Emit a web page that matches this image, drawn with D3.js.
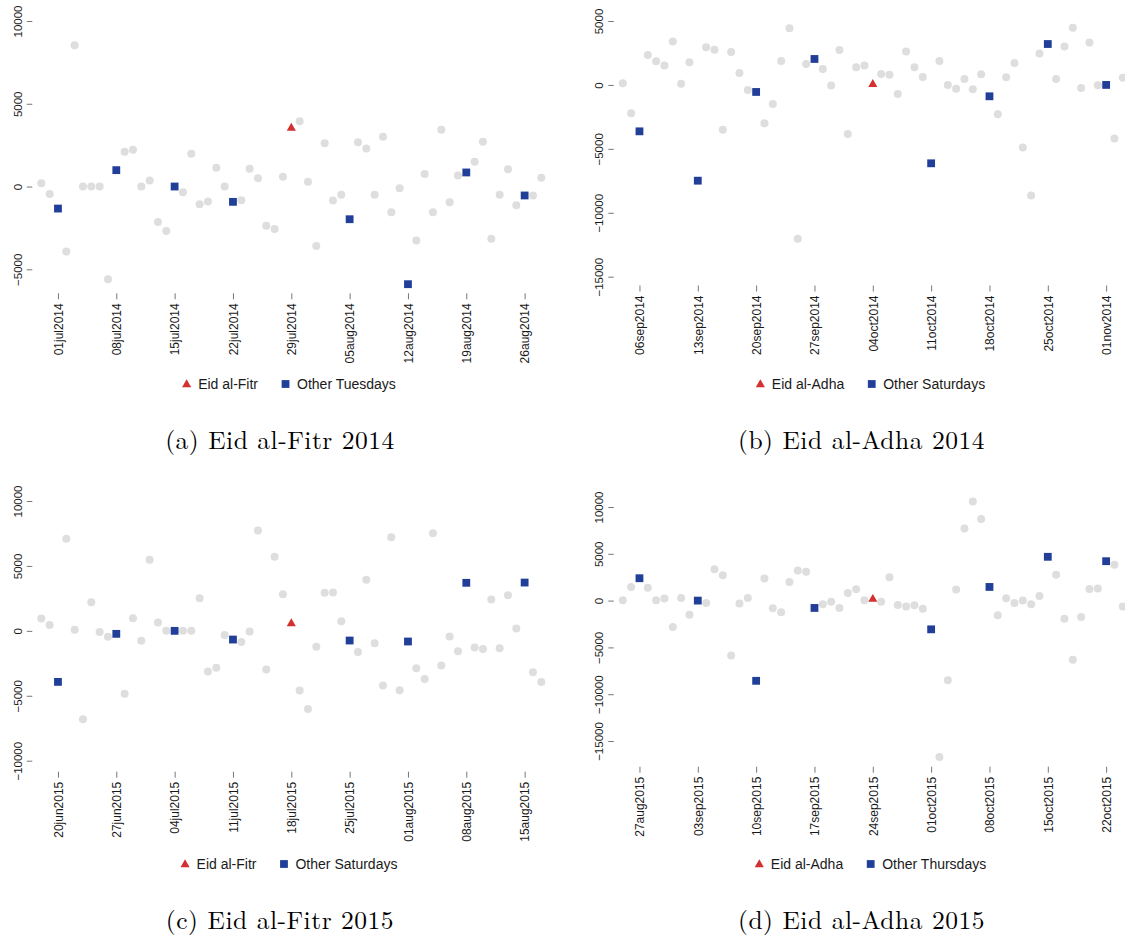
<!DOCTYPE html>
<html>
<head>
<meta charset="utf-8">
<script src="https://cdn.jsdelivr.net/npm/d3@7"></script>
<style>
  html, body { margin: 0; padding: 0; background: #fff; }
  svg { display: block; }
</style>
</head>
<body>
<script>
// Daily deviations around each Eid (61 days: 30 days before and after the holiday)
const startDates = ["2014-06-29", "2014-09-04", "2015-06-18", "2015-08-25"];

const eidFitr2014 = [
  200, -450, -1330, -3930, 8530, 0, 0, 0, -5600, 990,
  2100, 2220, 0, 360, -2150, -2680, 0, -340, 1980, -1065,
  -900, 1130, 0, -925, -830, 1070, 505, -2375, -2560, 585,
  3530, 3950, 285, -3585, 2620, -845, -500, -1975, 2680, 2300,
  -500, 3000, -1550, -100, -5900, -3265, 750, -1550, 3430, -945,
  665, 850, 1495, 2700, -3160, -500, 1050, -1125, -540, -540,
  525
];
const eidAdha2014 = [
  130, -2220, -3630, 2350, 1850, 1510, 3390, 100, 1770, -7490,
  2940, 2760, -3500, 2580, 940, -390, -550, -3000, -1490, 1880,
  4430, -12030, 1640, 2030, 1250, -50, 2740, -3830, 1380, 1510,
  50, 860, 805, -705, 2610, 1380, 625, -6130, 1880, 0,
  -290, 470, -340, 830, -890, -2300, 600, 1720, -4900, -8640,
  2450, 3200, 470, 3000, 4480, -240, 3310, -30, 0, -4200,
  570
];
const eidFitr2015 = [
  950, 460, -3930, 7090, 80, -6800, 2210, -80, -460, -230,
  -4850, 975, -770, 5470, 640, 0, 0, 0, 0, 2520,
  -3130, -2850, -310, -670, -850, -50, 7730, -2980, 5700, 2825,
  560, -4600, -6010, -1230, 2930, 2950, 745, -745, -1620, 3930,
  -950, -4210, 7215, -4570, -820, -2880, -3700, 7520, -2670, -440,
  -1570, 3700, -1280, -1390, 2410, -1335, 2750, 180, 3720, -3180,
  -3930
];
const eidAdha2015 = [
  35, 1460, 2390, 1360, 35, 215, -2820, 285, -1500, 0,
  -250, 3360, 2710, -5860, -320, 285, -8570, 2360, -820, -1250,
  2000, 3210, 3070, -785, -390, -110, -785, 820, 1210, 35,
  150, -110, 2500, -460, -640, -500, -860, -3070, -16710, -8500,
  1180, 7710, 10600, 8710, 1460, -1570, 250, -250, 0, -390,
  500, 4680, 2750, -1930, -6320, -1750, 1250, 1290, 4210, 3820,
  -640
];
const seriesValues = [eidFitr2014, eidAdha2014, eidFitr2015, eidAdha2015];

// Day index of the holiday, and of the first matching weekday shown as a tick
const eidIndex = 30;
const firstWeekdayIndex = 2;

const yTicksA = [-5000, 0, 5000, 10000];
const yTicksB = [-15000, -10000, -5000, 0, 5000];
const yTicksC = [-10000, -5000, 0, 5000, 10000];
const yTicksD = [-15000, -10000, -5000, 0, 5000, 10000];
const yTickSets = [yTicksA, yTicksB, yTicksC, yTicksD];

const eidLabels = ["Eid al-Fitr", "Eid al-Adha", "Eid al-Fitr", "Eid al-Adha"];
const otherLabels = ["Other Tuesdays", "Other Saturdays", "Other Saturdays", "Other Thursdays"];
const captions = ["(a) Eid al-Fitr 2014", "(b) Eid al-Adha 2014", "(c) Eid al-Fitr 2015", "(d) Eid al-Adha 2015"];

// Layout of the four panels
const layout = [
  { x0: 0,     yTop: 21,  yBottom: 269.3, axisY: 293.3, legendY: 384, captionY: 449 },
  { x0: 581.5, yTop: 21,  yBottom: 276.7, axisY: 285.5, legendY: 384, captionY: 449 },
  { x0: 0,     yTop: 501, yBottom: 760.7, axisY: 771.7, legendY: 864, captionY: 929 },
  { x0: 581.5, yTop: 507, yBottom: 741,   axisY: 766.7, legendY: 864, captionY: 929 }
];
const axisX = 32.3, firstX = 41.3, lastX = 541.3;

const colGrey = "#dedede", colNavy = "#213f99", colRed = "#d3302f";
const tickCol = "#777", labelCol = "#1a1a1a";
const sansFont = "'Liberation Sans', Arial, Helvetica, sans-serif";
const serifFont = "'Latin Modern Roman', 'CMU Serif', 'Liberation Serif', 'Times New Roman', serif";

const W = 1125, H = 941;
const svg = d3.select("body").append("svg")
  .attr("width", W).attr("height", H);
svg.append("rect").attr("width", W).attr("height", H).attr("fill", "#fff");

const fmt = d3.utcFormat("%d%b%Y");
const triPath = d3.symbol(d3.symbolTriangle, 36)();
const sq = 7.8;

seriesValues.forEach((vals, p) => {
  const L = layout[p];
  const g = svg.append("g").attr("transform", `translate(${L.x0},0)`);
  const start = new Date(startDates[p] + "T00:00:00Z");
  const end = d3.utcDay.offset(start, vals.length - 1);

  const x = d3.scaleUtc().domain([start, end]).range([firstX, lastX]);
  const yt = yTickSets[p];
  const y = d3.scaleLinear().domain(d3.extent(yt)).range([L.yBottom, L.yTop]);

  const pts = vals.map((v, i) => {
    const kind = i === eidIndex ? "eid"
      : ((i - firstWeekdayIndex) % 7 === 0 && i >= firstWeekdayIndex ? "other" : "day");
    return { date: d3.utcDay.offset(start, i), value: v, kind };
  });

  // x axis: weekly ticks on the matching weekday
  const xTicks = pts.filter((d, i) => i >= firstWeekdayIndex && (i - firstWeekdayIndex) % 7 === 0)
    .map(d => d.date);
  const xAxis = g.append("g").attr("transform", `translate(0,${L.axisY})`)
    .call(d3.axisBottom(x).tickValues(xTicks).tickSize(6)
      .tickFormat(d => fmt(d).toLowerCase()));
  xAxis.select(".domain").remove();
  xAxis.selectAll(".tick line").attr("stroke", tickCol);
  xAxis.selectAll(".tick text")
    .attr("transform", "rotate(-90)")
    .attr("x", -10).attr("y", 0).attr("dy", "0.35em")
    .attr("text-anchor", "end")
    .attr("fill", labelCol)
    .style("font-family", sansFont).style("font-size", "12px");

  // y axis
  const yAxis = g.append("g").attr("transform", `translate(${axisX},0)`)
    .call(d3.axisLeft(y).tickValues(yt).tickSize(5.5).tickFormat(d3.format("d")));
  yAxis.select(".domain").remove();
  yAxis.selectAll(".tick line").attr("stroke", tickCol);
  yAxis.selectAll(".tick text")
    .attr("transform", "rotate(-90)")
    .attr("x", 0).attr("y", -10.5).attr("dy", 0)
    .attr("text-anchor", "middle")
    .attr("fill", labelCol)
    .style("font-family", sansFont).style("font-size", "11.5px");

  // ordinary days
  g.append("g").selectAll("circle")
    .data(pts.filter(d => d.kind === "day"))
    .join("circle")
    .attr("cx", d => x(d.date)).attr("cy", d => y(d.value))
    .attr("r", 4).attr("fill", colGrey);

  // same weekday as the holiday
  g.append("g").selectAll("rect")
    .data(pts.filter(d => d.kind === "other"))
    .join("rect")
    .attr("x", d => x(d.date) - sq / 2).attr("y", d => y(d.value) - sq / 2)
    .attr("width", sq).attr("height", sq).attr("fill", colNavy);

  // the holiday itself
  g.append("g").selectAll("path")
    .data(pts.filter(d => d.kind === "eid"))
    .join("path")
    .attr("d", triPath)
    .attr("transform", d => `translate(${x(d.date)},${y(d.value)})`)
    .attr("fill", colRed);

  // legend, centred under the plot
  const leg = g.append("g");
  const t1 = leg.append("text").text(eidLabels[p])
    .attr("y", L.legendY).attr("dy", "0.35em")
    .attr("fill", labelCol).style("font-family", sansFont).style("font-size", "14px");
  const t2 = leg.append("text").text(otherLabels[p])
    .attr("y", L.legendY).attr("dy", "0.35em")
    .attr("fill", labelCol).style("font-family", sansFont).style("font-size", "14px");
  const w1 = t1.node().getComputedTextLength();
  const w2 = t2.node().getComputedTextLength();
  const symW = 9, gapSym = 7, gapItem = 23;
  const total = symW + gapSym + w1 + gapItem + symW + gapSym + w2;
  let cx = 289 - total / 2;
  leg.append("path").attr("d", triPath)
    .attr("transform", `translate(${cx + symW / 2},${L.legendY + 0.5})`).attr("fill", colRed);
  t1.attr("x", cx + symW + gapSym);
  cx += symW + gapSym + w1 + gapItem;
  leg.append("rect").attr("x", cx + (symW - sq) / 2).attr("y", L.legendY - sq / 2)
    .attr("width", sq).attr("height", sq).attr("fill", colNavy);
  t2.attr("x", cx + symW + gapSym);

  // sub-figure caption
  g.append("text").text(captions[p])
    .attr("x", 280).attr("y", L.captionY)
    .attr("text-anchor", "middle")
    .attr("fill", "#000")
    .style("font-family", serifFont).style("font-size", "25.5px")
    .style("letter-spacing", "0.5px");
});
</script>
</body>
</html>
